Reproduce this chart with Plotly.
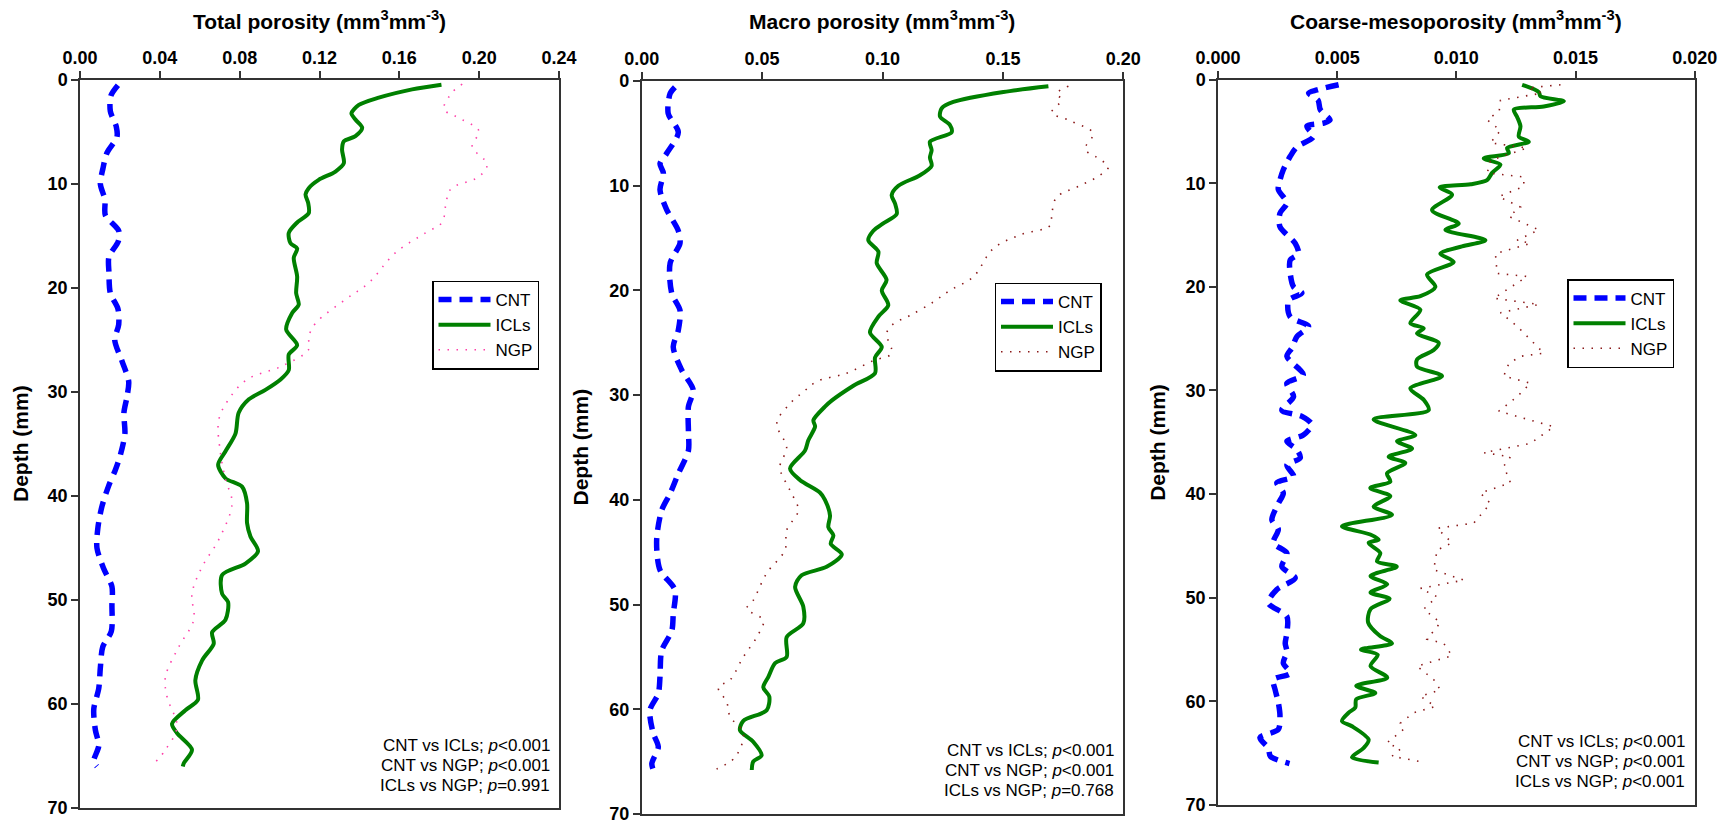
import plotly.graph_objects as go

W, H = 1727, 825
FONT = "Arial, 'Liberation Sans', Helvetica, sans-serif"

# ---------------- data (depth in mm, porosity in mm3 mm-3) ----------------
series_names = ["CNT", "ICLs", "NGP"]

# Panel 1: Total porosity
total_cnt_depth = [0.5, 1.5, 3, 4.5, 5.5, 7, 8.5, 10, 11.5, 13, 14.5, 15.5, 17, 18.5, 20.5, 22, 23.5, 25,
                   27, 29, 30.5, 32, 34, 36, 37.5, 39, 41, 43, 45, 47, 48.7, 50.5, 53, 54.5, 56.5, 58.5,
                   60.5, 62.5, 64, 65.5, 66]
total_cnt = [0.019, 0.0155, 0.0152, 0.0182, 0.0185, 0.0135, 0.0115, 0.0102, 0.0125, 0.0127, 0.0194, 0.0192,
             0.0145, 0.0145, 0.0152, 0.019, 0.0194, 0.0174, 0.021, 0.0244, 0.0235, 0.022, 0.0225, 0.0203,
             0.0177, 0.0144, 0.011, 0.009, 0.0085, 0.0119, 0.016, 0.016, 0.0157, 0.0114, 0.0102, 0.0094,
             0.0069, 0.0077, 0.0094, 0.0069, 0.0085]

total_icl_depth = [0.45, 0.9, 1.7, 2.4, 3.2, 3.8, 4.6, 5.4, 5.9, 6.7, 8.0, 8.8, 9.6, 10.4, 11.0, 11.8, 12.8,
                   13.7, 14.7, 15.7, 16.2, 17.1, 18.9, 20.5, 21.6, 22.4, 24.0, 25.5, 26.4, 27.9, 28.8, 29.8,
                   30.7, 32.0, 34.0, 35.7, 37.0, 38.3, 39.1, 40.7, 42.6, 43.9, 45.3, 46.5, 47.6, 49.4, 50.2,
                   51.9, 53.1, 54.2, 55.8, 57.7, 59.6, 60.6, 61.9, 62.8, 64.4, 65.7, 66.0]
total_icl = [0.1811, 0.1664, 0.1497, 0.1397, 0.136, 0.138, 0.1414, 0.138, 0.1322, 0.1313, 0.1322, 0.128,
             0.1196, 0.1146, 0.113, 0.1143, 0.1146, 0.1088, 0.1046, 0.1055, 0.1088, 0.1071, 0.1088, 0.1083,
             0.1096, 0.1063, 0.1033, 0.1088, 0.1046, 0.1046, 0.1005, 0.0929, 0.0846, 0.0795, 0.0779, 0.0729,
             0.0692, 0.0729, 0.0812, 0.0837, 0.0837, 0.0854, 0.0892, 0.0829, 0.0712, 0.0712, 0.0742, 0.0729,
             0.0662, 0.067, 0.0612, 0.0578, 0.0591, 0.0528, 0.0461, 0.0486, 0.0561, 0.052, 0.0515]

total_ngp_depth = [0.4, 1.2, 2.8, 3.5, 4.9, 6.4, 8.1, 9.3, 10.5, 12.1, 13.7, 14.7, 16.6, 19.5, 21.1, 23.4,
                   24.7, 25.9, 27.5, 28.8, 30.7, 32.7, 35.9, 38.4, 40.7, 44.2, 46.8, 49.4, 51.9, 54.5, 57.4,
                   59.3, 62.2, 64.4, 65.6]
total_ngp = [0.1915, 0.1865, 0.1823, 0.1882, 0.1999, 0.1965, 0.204, 0.1999, 0.1857, 0.1832, 0.1814, 0.1731,
             0.1581, 0.1447, 0.133, 0.118, 0.1146, 0.1146, 0.1013, 0.0837, 0.0745, 0.0695, 0.0704, 0.0729,
             0.0762, 0.0695, 0.0612, 0.0561, 0.057, 0.0495, 0.0428, 0.0436, 0.0486, 0.0428, 0.0378]

# Panel 2: Macro porosity
macro_cnt_depth = [0.6, 1.2, 3.1, 4.9, 6.9, 7.9, 8.8, 10.4, 12.3, 14.3, 15.5, 17.4, 20.3, 21.9, 23.8, 25.4,
                   27.6, 29.5, 31.1, 33.5, 35.3, 37.5, 39.4, 41.0, 43.9, 46.7, 48.6, 50.9, 52.5, 54.4, 56.9,
                   58.5, 60.1, 62.3, 63.6, 65.2, 66.2]
macro_cnt = [0.0138, 0.0118, 0.011, 0.0152, 0.0104, 0.0076, 0.009, 0.0076, 0.0104, 0.0152, 0.0159, 0.0118,
             0.0125, 0.0159, 0.0152, 0.0131, 0.0166, 0.0214, 0.0194, 0.0194, 0.0194, 0.0152, 0.0118, 0.0083,
             0.0062, 0.0076, 0.0138, 0.0131, 0.0125, 0.0083, 0.0076, 0.0069, 0.0034, 0.0048, 0.0069, 0.0042,
             0.0055]

macro_icl_depth = [0.5, 1.05, 2.0, 2.6, 3.4, 4.2, 4.9, 5.8, 6.6, 7.3, 8.1, 9.0, 10.0, 10.9, 11.7, 12.7, 13.6,
                   14.3, 15.2, 16.3, 17.4, 19.0, 20.0, 21.4, 22.5, 24.0, 25.4, 26.4, 27.9, 29.1, 30.5, 31.1,
                   32.4, 33.0, 34.3, 35.3, 37.0, 38.1, 39.3, 40.0, 41.5, 42.6, 43.4, 44.2, 45.2, 46.4, 47.2,
                   48.3, 50.2, 51.8, 53.1, 55.0, 55.6, 56.9, 57.9, 58.8, 60.1, 61.1, 62.0, 63.1, 64.4, 65.0,
                   65.8]
macro_icl = [0.1689, 0.1502, 0.1294, 0.1246, 0.1239, 0.128, 0.1287, 0.1197, 0.1204, 0.1197, 0.1204, 0.1156,
             0.1066, 0.1038, 0.1052, 0.1059, 0.1003, 0.0962, 0.0941, 0.0983, 0.0976, 0.1017, 0.0997, 0.1024,
             0.0983, 0.0948, 0.0997, 0.0969, 0.0969, 0.0879, 0.079, 0.0761, 0.0713, 0.072, 0.0692, 0.0678,
             0.0616, 0.0657, 0.074, 0.0761, 0.0782, 0.0775, 0.0796, 0.0785, 0.0831, 0.0768, 0.0664, 0.0637,
             0.0671, 0.0671, 0.0602, 0.0602, 0.0554, 0.0526, 0.0505, 0.053, 0.0519, 0.0422, 0.0408, 0.0463,
             0.0498, 0.0463, 0.0457]

macro_ngp_depth = [0.5, 1.2, 1.8, 3.0, 3.8, 5.0, 6.5, 7.3, 8.2, 9.0, 10.0, 11.1, 12.7, 13.8, 14.7, 16.0, 18.7,
                   20.0, 21.1, 22.4, 23.2, 24.1, 26.0, 26.7, 27.9, 28.7, 29.7, 30.8, 32.7, 35.0, 36.9, 39.1,
                   41.0, 42.9, 44.8, 47.0, 49.6, 50.4, 51.5, 53.1, 55.0, 57.2, 57.9, 59.3, 60.7, 62.3, 64.6,
                   65.7]
macro_ngp = [0.1772, 0.1723, 0.1744, 0.1703, 0.1779, 0.1875, 0.1841, 0.189, 0.1938, 0.1903, 0.182, 0.1723,
             0.1703, 0.1696, 0.1571, 0.146, 0.1377, 0.128, 0.1211, 0.1114, 0.1045, 0.1017, 0.1038, 0.0962,
             0.0851, 0.0727, 0.0671, 0.0616, 0.0561, 0.0602, 0.0574, 0.0616, 0.065, 0.0602, 0.0595, 0.0519,
             0.0463, 0.0436, 0.0505, 0.0478, 0.0422, 0.0367, 0.0318, 0.0353, 0.0367, 0.0422, 0.0387, 0.0311]

# Panel 3: Coarse-mesoporosity
meso_cnt_depth = [0.5, 1.0, 1.3, 2.0, 2.9, 3.9, 4.2, 4.5, 5.5, 6.5, 7.4, 8.7, 9.7, 10.6, 11.9, 12.9, 14.2,
                  15.8, 16.8, 17.4, 18.7, 20.0, 20.6, 21.3, 22.9, 23.8, 24.8, 25.9, 26.7, 28.5, 29.3, 30.6,
                  31.9, 32.5, 33.3, 34.3, 34.9, 35.7, 36.5, 37.2, 38.3, 38.9, 39.9, 40.9, 42.5, 43.4, 44.7,
                  45.7, 47.0, 48.1, 49.2, 50.5, 51.8, 53.4, 54.4, 55.2, 56.3, 57.3, 57.9, 58.9, 60.1, 61.4,
                  62.7, 63.5, 64.5, 65.3, 66.0]
meso_cnt = [0.00506, 0.00415, 0.0038, 0.0042, 0.00429, 0.0047, 0.00443, 0.00373, 0.004, 0.00331, 0.00303,
            0.00274, 0.0026, 0.00253, 0.00289, 0.0026, 0.0026, 0.00324, 0.00338, 0.00303, 0.00303, 0.00317,
            0.00352, 0.00296, 0.00303, 0.0038, 0.00331, 0.0031, 0.00289, 0.00358, 0.00289, 0.00317, 0.00268,
            0.00352, 0.00394, 0.00358, 0.00289, 0.00331, 0.00345, 0.00289, 0.00317, 0.00247, 0.00274,
            0.00253, 0.00226, 0.00253, 0.00232, 0.00289, 0.00268, 0.00324, 0.00247, 0.00211, 0.00289,
            0.00289, 0.00282, 0.00289, 0.00274, 0.00303, 0.00232, 0.0024, 0.00253, 0.0026, 0.00253, 0.00176,
            0.00211, 0.0022, 0.0030]

meso_icl_depth = [0.5, 1.2, 1.6, 2.1, 2.6, 2.9, 3.6, 4.5, 5.5, 6.0, 6.6, 7.1, 7.6, 8.2, 9.0, 9.7, 10.1, 10.4,
                  11.1, 12.6, 13.9, 14.5, 15.5, 16.1, 16.8, 17.6, 18.8, 20.0, 20.9, 21.3, 22.2, 23.5, 24.0,
                  24.5, 25.4, 26.1, 27.0, 27.7, 28.6, 29.8, 30.9, 31.9, 32.8, 34.3, 34.9, 35.6, 36.4, 37.0,
                  38.0, 38.8, 39.4, 40.2, 41.2, 42.0, 43.1, 43.9, 44.4, 44.7, 45.7, 46.5, 47.0, 47.9, 48.7,
                  49.5, 50.1, 51.1, 52.4, 53.7, 54.4, 55.0, 55.5, 56.6, 57.7, 58.5, 59.2, 59.8, 60.6, 61.1,
                  61.9, 62.4, 63.7, 64.5, 65.4, 65.9]
meso_icl = [0.01276, 0.01346, 0.01353, 0.01451, 0.01367, 0.01241, 0.01255, 0.01269, 0.01262, 0.01304,
            0.01213, 0.0122, 0.01115, 0.01185, 0.0115, 0.01129, 0.0106, 0.0093, 0.00982, 0.00898, 0.0101,
            0.00954, 0.01122, 0.01024, 0.00933, 0.00989, 0.00877, 0.00912, 0.00849, 0.00765, 0.00849,
            0.00807, 0.00863, 0.00835, 0.00926, 0.00905, 0.00835, 0.00835, 0.0094, 0.00807, 0.00863,
            0.00884, 0.00653, 0.00828, 0.00751, 0.00814, 0.00716, 0.00786, 0.00709, 0.00723, 0.00639,
            0.00723, 0.00653, 0.0073, 0.0052, 0.00639, 0.00674, 0.00632, 0.00681, 0.00667, 0.0075, 0.0064,
            0.0071, 0.0064, 0.0072, 0.0064, 0.0063, 0.0068, 0.0073, 0.006, 0.0067, 0.0064, 0.0071, 0.0058,
            0.0066, 0.0058, 0.00576, 0.00548, 0.0052, 0.00562, 0.00632, 0.00611, 0.00562, 0.00674]

meso_ngp_depth = [0.5, 0.8, 1.3, 2.0, 3.0, 3.9, 4.9, 6.1, 6.6, 7.8, 9.0, 9.4, 10.3, 11.3, 12.3, 13.2, 14.5,
                  15.5, 15.8, 16.8, 18.7, 19.0, 21.1, 21.7, 22.5, 23.8, 26.4, 26.7, 27.4, 28.6, 29.3, 30.6,
                  32.0, 32.8, 33.5, 35.1, 36.0, 36.4, 37.3, 38.9, 39.9, 40.9, 42.8, 43.3, 44.7, 45.4, 47.3,
                  48.3, 49.1, 49.9, 51.1, 52.4, 54.0, 54.4, 55.6, 56.6, 57.9, 58.9, 59.5, 60.5, 61.1, 62.1,
                  62.7, 64.0, 64.6, 65.3, 65.9]
meso_ngp = [0.01437, 0.013, 0.0136, 0.01185, 0.0118, 0.0113, 0.01185, 0.01143, 0.01297, 0.01143, 0.0113,
            0.01283, 0.01283, 0.01178, 0.01269, 0.0122, 0.01346, 0.01255, 0.01311, 0.01164, 0.01171,
            0.01297, 0.01157, 0.01346, 0.01185, 0.01255, 0.01367, 0.01269, 0.0122, 0.01199, 0.01311,
            0.01255, 0.01178, 0.01297, 0.01409, 0.01311, 0.01115, 0.01227, 0.01199, 0.01227, 0.01101,
            0.01143, 0.01073, 0.00919, 0.00982, 0.00919, 0.00905, 0.01031, 0.00849, 0.00919, 0.00863,
            0.00933, 0.00877, 0.00947, 0.00982, 0.00835, 0.00905, 0.00933, 0.00849, 0.00912, 0.00821,
            0.00765, 0.00779, 0.00709, 0.00765, 0.0073, 0.0087]

panel_titles = ["Total porosity (mm<sup>3</sup>mm<sup>-3</sup>)",
                "Macro porosity (mm<sup>3</sup>mm<sup>-3</sup>)",
                "Coarse-mesoporosity (mm<sup>3</sup>mm<sup>-3</sup>)"]
x_ticks = [[0.00, 0.04, 0.08, 0.12, 0.16, 0.20, 0.24],
           [0.00, 0.05, 0.10, 0.15, 0.20],
           [0.000, 0.005, 0.010, 0.015, 0.020]]
x_tickformat = [".2f", ".2f", ".3f"]
depth_ticks = [0, 10, 20, 30, 40, 50, 60, 70]
y_title = "Depth (mm)"
stats_text = [
    ["CNT vs ICLs; <i>p</i><0.001", "CNT vs NGP; <i>p</i><0.001", "ICLs vs NGP; <i>p</i>=0.991"],
    ["CNT vs ICLs; <i>p</i><0.001", "CNT vs NGP; <i>p</i><0.001", "ICLs vs NGP; <i>p</i>=0.768"],
    ["CNT vs ICLs; <i>p</i><0.001", "CNT vs NGP; <i>p</i><0.001", "ICLs vs NGP; <i>p</i><0.001"],
]

# ---------------- layout geometry (pixels) ----------------
def fx(px):
    return px / W

def fy(py):
    return 1 - py / H

panel_px = [  # left, right, top, bottom
    (80, 559, 80, 808),
    (641.7, 1123.3, 81, 814),
    (1218, 1694.7, 79.6, 805),
]
legend_px = [(432, 280.5), (994.5, 282.5), (1567, 279)]
stats_px = [(551.7, [745.7, 765.5, 785.5]), (1115.7, [750.7, 770.2, 790]), (1686.7, [741, 761.5, 781])]
ytitle_px = [20, 580, 1157.5]

series = [
    [(total_cnt_depth, total_cnt), (total_icl_depth, total_icl), (total_ngp_depth, total_ngp)],
    [(macro_cnt_depth, macro_cnt), (macro_icl_depth, macro_icl), (macro_ngp_depth, macro_ngp)],
    [(meso_cnt_depth, meso_cnt), (meso_icl_depth, meso_icl), (meso_ngp_depth, meso_ngp)],
]
ngp_colors = ["#FF3FA8", "#8B1A1A", "#8B1A1A"]

fig = go.Figure()
annotations = []
layout = {}

for i in range(3):
    sfx = "" if i == 0 else str(i + 1)
    xa, ya = "x" + sfx, "y" + sfx
    leg = "legend" + sfx
    (cd, cv), (idp, iv), (nd, nv) = series[i]
    fig.add_trace(go.Scatter(x=cv, y=cd, name="CNT", mode="lines", xaxis=xa, yaxis=ya, legend=leg,
                             line=dict(color="#0000FF", width=5.5, dash="13px,8px", shape="spline",
                                       smoothing=0.8)))
    fig.add_trace(go.Scatter(x=iv, y=idp, name="ICLs", mode="lines", xaxis=xa, yaxis=ya, legend=leg,
                             line=dict(color="#008000", width=4, shape="spline", smoothing=0.8)))
    fig.add_trace(go.Scatter(x=nv, y=nd, name="NGP", mode="lines", xaxis=xa, yaxis=ya, legend=leg,
                             line=dict(color=ngp_colors[i], width=1.6, dash="1.5px,7.5px",
                                       shape="linear" if i == 2 else "spline")))

    l, r, t, b = panel_px[i]
    ticks = x_ticks[i]
    layout["xaxis" + sfx] = dict(
        domain=[fx(l), fx(r)], anchor=ya, side="top", range=[ticks[0], ticks[-1]],
        tickvals=ticks, tickformat=x_tickformat[i], ticks="outside", ticklen=7, tickwidth=1.5,
        tickcolor="#333", showline=True, linecolor="#333", linewidth=1.5, mirror=True,
        showgrid=False, zeroline=False, automargin=False,
        tickfont=dict(family=FONT, size=18, color="black", weight="bold"))
    layout["yaxis" + sfx] = dict(
        domain=[fy(b), fy(t)], anchor=xa, range=[70, 0], tickvals=depth_ticks,
        ticks="outside", ticklen=7, tickwidth=1.5, tickcolor="#333", showline=True,
        linecolor="#333", linewidth=1.5, mirror=True, showgrid=False, zeroline=False,
        automargin=False,
        tickfont=dict(family=FONT, size=18, color="black", weight="bold"))

    lx, ly = legend_px[i]
    layout[leg] = dict(x=fx(lx), y=fy(ly), xanchor="left", yanchor="top", xref="paper", yref="paper",
                       bgcolor="white", bordercolor="black", borderwidth=1.5,
                       font=dict(family=FONT, size=17, color="black"), itemwidth=52,
                       tracegroupgap=0)

    annotations.append(dict(text=panel_titles[i], x=fx((l + r) / 2), y=fy(20), xref="paper",
                            yref="paper", showarrow=False, xanchor="center", yanchor="middle",
                            font=dict(family=FONT, size=21, color="black", weight="bold")))
    annotations.append(dict(text=y_title, x=fx(ytitle_px[i]), y=fy((t + b) / 2), xref="paper",
                            yref="paper", showarrow=False, textangle=-90, xanchor="center",
                            yanchor="middle",
                            font=dict(family=FONT, size=21, color="black", weight="bold")))
    sx, sys_ = stats_px[i]
    for txt, yy in zip(stats_text[i], sys_):
        annotations.append(dict(text=txt, x=fx(sx), y=fy(yy), xref="paper", yref="paper",
                                showarrow=False, xanchor="right", yanchor="middle",
                                font=dict(family=FONT, size=17, color="black")))

fig.update_layout(width=W, height=H, margin=dict(l=0, r=0, t=0, b=0), paper_bgcolor="white",
                  plot_bgcolor="white", annotations=annotations, **layout)

fig.write_html("out.html")
